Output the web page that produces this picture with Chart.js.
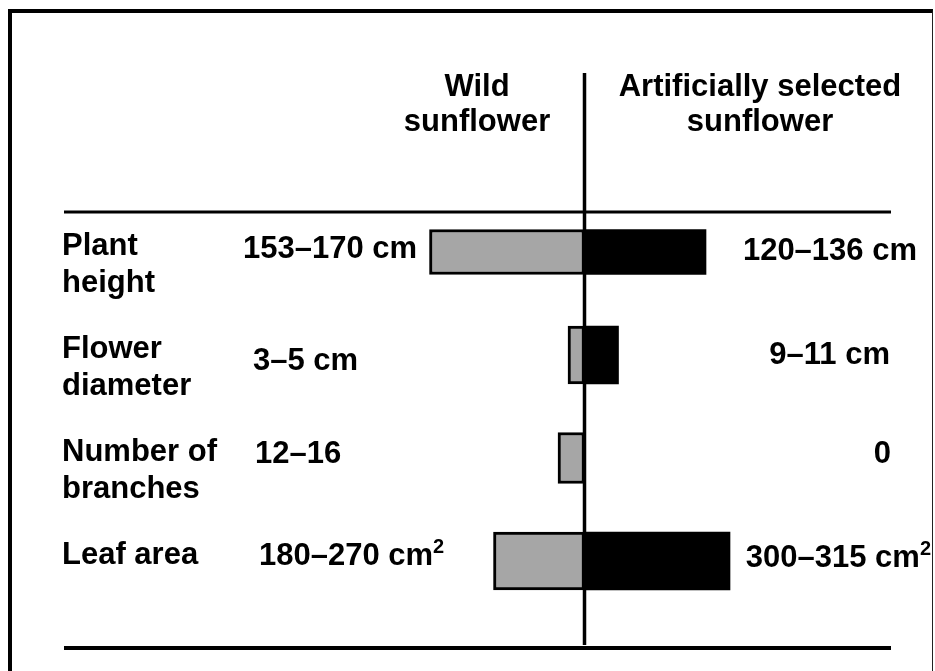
<!DOCTYPE html>
<html>
<head>
<meta charset="utf-8">
<script src="https://cdn.jsdelivr.net/npm/chart.js@4"></script>
<style>
  html, body { margin: 0; padding: 0; background: #fff; }
  #wrap { position: relative; width: 935px; height: 671px; overflow: hidden; background: #fff; }
  #c { position: absolute; left: 0; top: 0; }
  #frame { position: absolute; left: 8px; top: 9px; width: 925px; height: 720px; box-sizing: border-box;
           border-top: 4px solid #000; border-left: 4px solid #000; border-right: 1.5px solid #222; pointer-events: none; }
</style>
</head>
<body>
<div id="wrap">
  <canvas id="c" width="935" height="671"></canvas>
  <div id="frame"></div>
</div>
<script>
// ---- data ----
const categories = [["Plant", "height"], ["Flower", "diameter"], ["Number of", "branches"], ["Leaf area", ""]];
const groupHeaders = [["Wild", "sunflower"], ["Artificially selected", "sunflower"]];
const wildRanges = ["153–170 cm", "3–5 cm", "12–16", "180–270 cm"];
const wildSup = ["", "", "", "2"];
const selectedRanges = ["120–136 cm", "9–11 cm", "0", "300–315 cm"];
const selectedSup = ["", "", "", "2"];
// relative bar lengths (schematic units)
const wildBarLength = [155, 16.5, 26.5, 91];
const selectedBarLength = [121.5, 34, 0, 145.5];

// ---- styles / layout ----
const FONT = '"Liberation Sans", Arial, Helvetica, sans-serif';
const FS = 31;
const rowThickness = [45, 58, 51, 58];
const wildLabelX = [243, 253, 255, 259];
const wildLabelDy = [6, 15, 5, 4];
const selLabelRight = [917, 890, 891, 931];
const selLabelDy = [8, 9, 5, 6];
const headerCenterX = [477, 760];
const headerBaselines = [96, 131];

const datasets = [];
categories.forEach((c, i) => {
  datasets.push({
    label: 'Wild sunflower',
    data: [{ x: -wildBarLength[i], y: i }],
    backgroundColor: '#a6a6a6',
    borderColor: '#000',
    borderWidth: 3,
    borderSkipped: false,
    barThickness: rowThickness[i],
    grouped: false
  });
  datasets.push({
    label: 'Artificially selected sunflower',
    data: [{ x: selectedBarLength[i], y: i }],
    backgroundColor: '#000',
    borderWidth: 0,
    barThickness: rowThickness[i],
    grouped: false
  });
});

function drawWithSup(ctx, text, sup, x, y, align) {
  ctx.font = `bold ${FS}px ${FONT}`;
  const supFont = `bold 20px ${FONT}`;
  ctx.textBaseline = 'alphabetic';
  if (align === 'left') {
    ctx.textAlign = 'left';
    ctx.fillText(text, x, y);
    if (sup) {
      const w = ctx.measureText(text).width;
      ctx.font = supFont;
      ctx.fillText(sup, x + w, y - 12);
    }
  } else {
    let supW = 0;
    if (sup) { ctx.font = supFont; supW = ctx.measureText(sup).width; }
    ctx.font = `bold ${FS}px ${FONT}`;
    ctx.textAlign = 'right';
    ctx.fillText(text, x - supW, y);
    if (sup) {
      ctx.font = supFont;
      ctx.textAlign = 'left';
      ctx.fillText(sup, x - supW, y - 12);
    }
  }
}

const decor = {
  id: 'decor',
  afterDatasetsDraw(chart) {
    const { ctx, chartArea: a, scales: { x, y } } = chart;
    const zx = x.getPixelForValue(0);
    ctx.save();
    ctx.strokeStyle = '#000';
    ctx.lineWidth = 3;
    ctx.beginPath(); ctx.moveTo(a.left + 2, a.top); ctx.lineTo(a.right, a.top); ctx.stroke();
    ctx.lineWidth = 4;
    ctx.beginPath(); ctx.moveTo(a.left + 2, a.bottom); ctx.lineTo(a.right, a.bottom); ctx.stroke();
    ctx.lineWidth = 3.5;
    ctx.beginPath(); ctx.moveTo(zx, 73); ctx.lineTo(zx, a.bottom - 3); ctx.stroke();

    ctx.fillStyle = '#000';
    ctx.font = `bold ${FS}px ${FONT}`;
    ctx.textAlign = 'center';
    ctx.textBaseline = 'alphabetic';
    groupHeaders.forEach((lines, g) => {
      lines.forEach((t, k) => ctx.fillText(t, headerCenterX[g], headerBaselines[k]));
    });

    categories.forEach((c, i) => {
      const cy = y.getPixelForValue(i);
      drawWithSup(ctx, wildRanges[i], wildSup[i], wildLabelX[i], cy + wildLabelDy[i], 'left');
      drawWithSup(ctx, selectedRanges[i], selectedSup[i], selLabelRight[i], cy + selLabelDy[i], 'right');
    });
    ctx.restore();
  }
};

new Chart(document.getElementById('c'), {
  type: 'bar',
  data: { datasets },
  options: {
    indexAxis: 'y',
    responsive: false,
    devicePixelRatio: 1,
    animation: false,
    layout: { padding: { left: 62, right: 44, top: 212, bottom: 23 } },
    plugins: { legend: { display: false }, tooltip: { enabled: false } },
    scales: {
      x: { type: 'linear', min: -522.5, max: 306.5, display: false },
      y: {
        type: 'linear',
        reverse: true,
        offset: false,
        min: -0.388,
        max: 3.845,
        grid: { display: false, drawTicks: false, offset: false },
        border: { display: false },
        afterFit: (s) => { s.paddingTop = 0; s.paddingBottom = 0; s.paddingLeft = 0; s.paddingRight = 0; },
        ticks: {
          mirror: true,
          padding: 0,
          stepSize: 1,
          autoSkip: false,
          labelOffset: 13,
          color: '#000',
          font: { family: FONT, size: FS, weight: 'bold', lineHeight: 1.17 },
          callback: (v) => Number.isInteger(v) && categories[v] ? categories[v] : null
        }
      }
    }
  },
  plugins: [decor]
});
</script>
</body>
</html>
